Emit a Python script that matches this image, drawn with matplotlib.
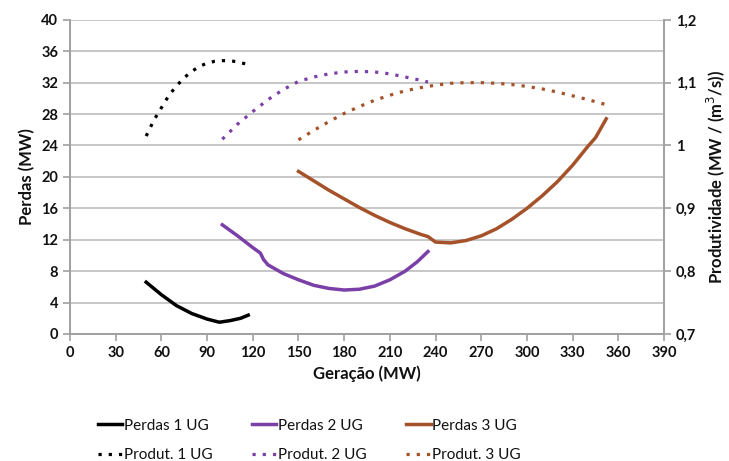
import numpy as np
import matplotlib.pyplot as plt

plt.rcParams['font.family'] = ['Lato', 'DejaVu Sans']

# Perdas (MW) x Geracao (MW) - eixo esquerdo
ger_p1 = [50, 60, 70, 80, 90, 98, 105, 112, 117]
perdas_1 = [6.6, 5.0, 3.6, 2.6, 1.9, 1.5, 1.7, 2.0, 2.4]

ger_p2 = [100, 110, 120, 125, 127, 130, 140, 150, 160, 170, 180, 190, 200, 210, 220, 228, 235]
perdas_2 = [13.9, 12.5, 11.0, 10.3, 9.5, 8.8, 7.7, 6.9, 6.2, 5.8, 5.6, 5.7, 6.1, 6.9, 8.0, 9.2, 10.5]

ger_p3 = [150, 160, 170, 180, 190, 200, 210, 220, 230, 235, 240, 250, 260, 270, 280, 290,
          300, 310, 320, 330, 340, 345, 352]
perdas_3 = [20.7, 19.5, 18.3, 17.2, 16.1, 15.1, 14.2, 13.4, 12.7, 12.4, 11.7, 11.6, 11.9, 12.5,
            13.4, 14.6, 16.0, 17.6, 19.4, 21.5, 23.9, 25.0, 27.4]

# Produtividade (MW/(m3/s)) - eixo direito
ger_q1 = [50, 55, 60, 65, 70, 75, 80, 85, 90, 95, 100, 105, 110, 115]
produt_1 = [1.015, 1.04, 1.06, 1.08, 1.095, 1.108, 1.118, 1.126, 1.131, 1.134, 1.135, 1.135, 1.133, 1.13]

ger_q2 = [100, 110, 120, 130, 140, 150, 160, 170, 180, 190, 200, 210, 220, 230, 235]
produt_2 = [1.01, 1.034, 1.054, 1.073, 1.089, 1.102, 1.109, 1.114, 1.117, 1.118, 1.117, 1.114, 1.109, 1.104, 1.101]

ger_q3 = [150, 160, 170, 180, 190, 200, 210, 220, 230, 240, 250, 260, 270, 280, 290,
          300, 310, 320, 330, 340, 352]
produt_3 = [1.009, 1.024, 1.038, 1.051, 1.062, 1.072, 1.08, 1.087, 1.092, 1.096, 1.099, 1.1, 1.1,
            1.099, 1.097, 1.094, 1.09, 1.085, 1.079, 1.073, 1.065]

c1, c2, c3 = 'black', '#7B3FA8', '#A5522A'
grid_c = '#BEBEBE'
txt_c = '#111111'

fig = plt.figure(figsize=(7.29, 4.61), dpi=100)
ax = fig.add_axes([0.096, 0.2755, 0.815, 0.6815])
ax2 = ax.twinx()

l1, = ax.plot(ger_p1, perdas_1, color=c1, lw=2.5, label='Perdas 1 UG')
l2, = ax.plot(ger_p2, perdas_2, color=c2, lw=2.5, label='Perdas 2 UG')
l3, = ax.plot(ger_p3, perdas_3, color=c3, lw=2.5, label='Perdas 3 UG')
dots = (0, (1, 2.2))
d1, = ax2.plot(ger_q1, produt_1, color=c1, lw=2.3, ls=dots, label='Produt. 1 UG')
d2, = ax2.plot(ger_q2, produt_2, color=c2, lw=2.3, ls=dots, label='Produt. 2 UG')
d3, = ax2.plot(ger_q3, produt_3, color=c3, lw=2.3, ls=dots, label='Produt. 3 UG')

ax.set_xlim(0, 390)
ax.set_ylim(0, 40)
ax2.set_ylim(0.7, 1.2)
ax.set_xticks(np.arange(0, 391, 30))
ax.set_yticks(np.arange(0, 41, 4))
ax2.set_yticks([0.7, 0.8, 0.9, 1.0, 1.1, 1.2])
ax2.set_yticklabels(['0,7', '0,8', '0,9', '1', '1,1', '1,2'])

ax.grid(axis='y', color=grid_c, lw=1.2)
ax.set_axisbelow(True)
for a in (ax, ax2):
    for s in a.spines.values():
        s.set_color('#A0A0A0')
        s.set_linewidth(1.2)
    a.spines['top'].set_visible(False)
    a.tick_params(colors='#A0A0A0', labelcolor=txt_c, length=5, width=1.2,
                  labelsize=10.5)
    for lab in a.get_xticklabels() + a.get_yticklabels():
        lab.set_fontweight('bold')

ax.set_xlabel('Geração (MW)', fontsize=12, fontweight='bold', color=txt_c, labelpad=4)
ax.set_ylabel('Perdas (MW)', fontsize=12, fontweight='bold', color=txt_c, labelpad=4)
ax2.set_ylabel('Produtividade (MW / (m$^3$/s))', fontsize=12, fontweight='bold',
               color=txt_c, labelpad=6)

leg = fig.legend(handles=[l1, d1, l2, d2, l3, d3], ncol=3, loc='lower left',
                 bbox_to_anchor=(0.115, -0.032), frameon=False, fontsize=11,
                 handlelength=1.6, handletextpad=0.1, columnspacing=2.6,
                 labelspacing=1.0)
for t in leg.get_texts():
    t.set_color(txt_c)

fig.savefig('out.png', dpi=100)
